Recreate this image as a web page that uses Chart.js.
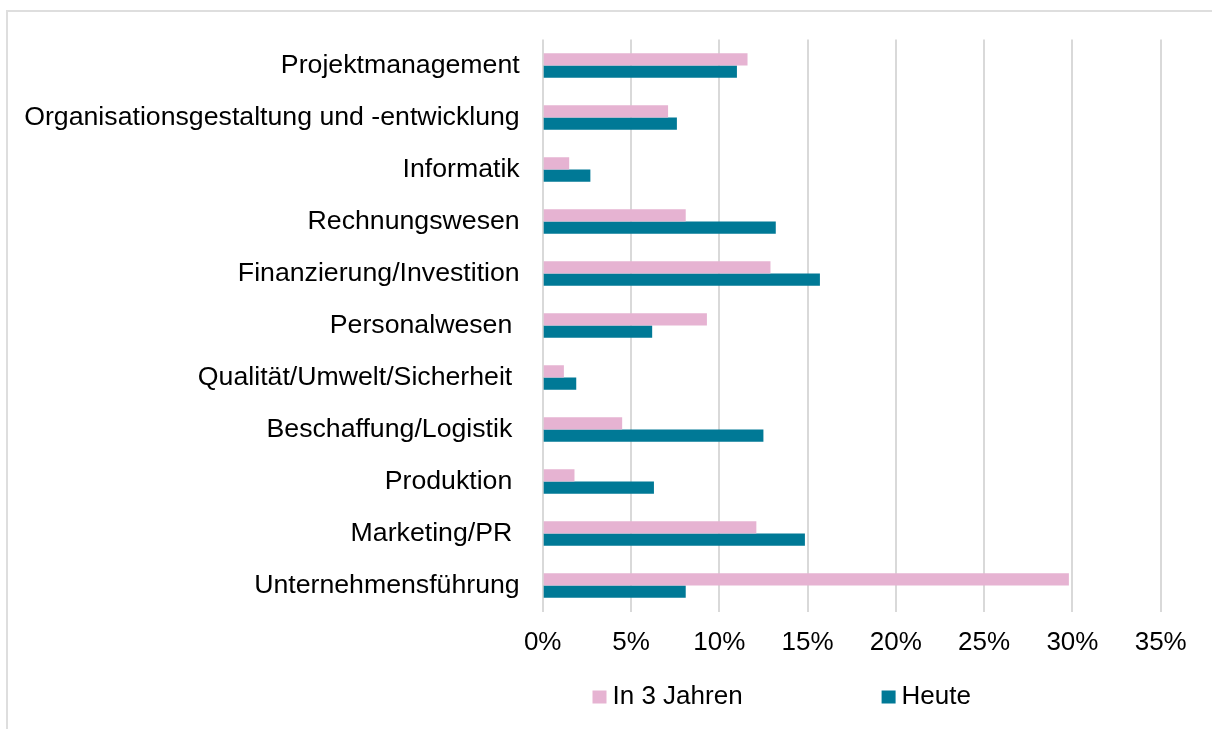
<!DOCTYPE html>
<html>
<head>
<meta charset="utf-8">
<script src="https://cdn.jsdelivr.net/npm/chart.js@4"></script>
<style>
	html, body { margin: 0; padding: 0; background: #fff; }
	#wrap { position: relative; width: 1212px; height: 729px; overflow: hidden; }
	#frame { position: absolute; left: 6px; top: 10px; width: 1400px; height: 900px; border: 2px solid #dedede; box-sizing: border-box; }
	#chart { position: absolute; left: 0; top: 0; }
</style>
</head>
<body>
<div id="wrap">
	<div id="frame"></div>
	<canvas id="chart" width="1212" height="729"></canvas>
</div>
<script>
// categories top to bottom, trailing spaces as in the source sheet
const categories = [
	'Projektmanagement',
	'Organisationsgestaltung und -entwicklung',
	'Informatik',
	'Rechnungswesen',
	'Finanzierung/Investition',
	'Personalwesen ',
	'Qualität/Umwelt/Sicherheit ',
	'Beschaffung/Logistik ',
	'Produktion ',
	'Marketing/PR ',
	'Unternehmensführung',
];

const seriesNames = ['In 3 Jahren', 'Heute'];

// shares in percent
const in3Jahren = [11.6, 7.1, 1.5, 8.1, 12.9, 9.3, 1.2, 4.5, 1.8, 12.1, 29.8];
const heute = [11.0, 7.6, 2.7, 13.2, 15.7, 6.2, 1.9, 12.5, 6.3, 14.85, 8.1];

const xTicks = [0, 5, 10, 15, 20, 25, 30, 35];

const labelFont = "'Liberation Sans', Arial, sans-serif";

// legend below the plot, drawn on the canvas (box close to the text, wide gap between items)
let bottomLegend = {
	id: 'bottomLegend',
	afterDraw (chart) {
		let { ctx } = chart;
		ctx.save();
		ctx.font = '26px ' + labelFont;
		ctx.textBaseline = 'middle';
		ctx.textAlign = 'left';
		let x = 592.5;
		let y = 697;
		chart.data.datasets.forEach((ds) => {
			ctx.fillStyle = ds.backgroundColor;
			ctx.fillRect(x, y - 6.5, 14, 13);
			ctx.fillStyle = '#000';
			ctx.fillText(ds.label, x + 20, y);
			x += 20 + ctx.measureText(ds.label).width + 139;
		});
		ctx.restore();
	},
};

new Chart(document.getElementById('chart'), {
	type: 'bar',
	data: {
		labels: categories,
		datasets: [
			{ label: seriesNames[0], data: in3Jahren, backgroundColor: '#e6b3d2' },
			{ label: seriesNames[1], data: heute, backgroundColor: '#007996' },
		],
	},
	options: {
		indexAxis: 'y',
		responsive: false,
		animation: false,
		categoryPercentage: 0.473,
		barPercentage: 1,
		layout: { padding: { left: 0, top: 39.5, right: 51.3, bottom: 0 } },
		plugins: {
			legend: { display: false },
			tooltip: { enabled: false },
		},
		scales: {
			x: {
				min: 0,
				max: 35,
				afterBuildTicks (scale) {
					scale.ticks = xTicks.map(v => ({ value: v }));
				},
				afterFit (scale) {
					scale.height = 729 - 611.5;
				},
				grid: { color: '#d9d9d9', lineWidth: 2, drawTicks: false },
				border: { display: false },
				ticks: {
					padding: 15.5,
					color: '#000',
					maxRotation: 0,
					font: { family: labelFont, size: 26 },
					callback: v => v + '%',
				},
			},
			y: {
				afterFit (scale) {
					scale.width = 542.7;
				},
				grid: { display: false, drawTicks: false },
				border: { display: false },
				ticks: {
					padding: 23,
					color: '#000',
					font: { family: labelFont, size: 26.7 },
				},
			},
		},
	},
	plugins: [ bottomLegend ],
});
</script>
</body>
</html>
